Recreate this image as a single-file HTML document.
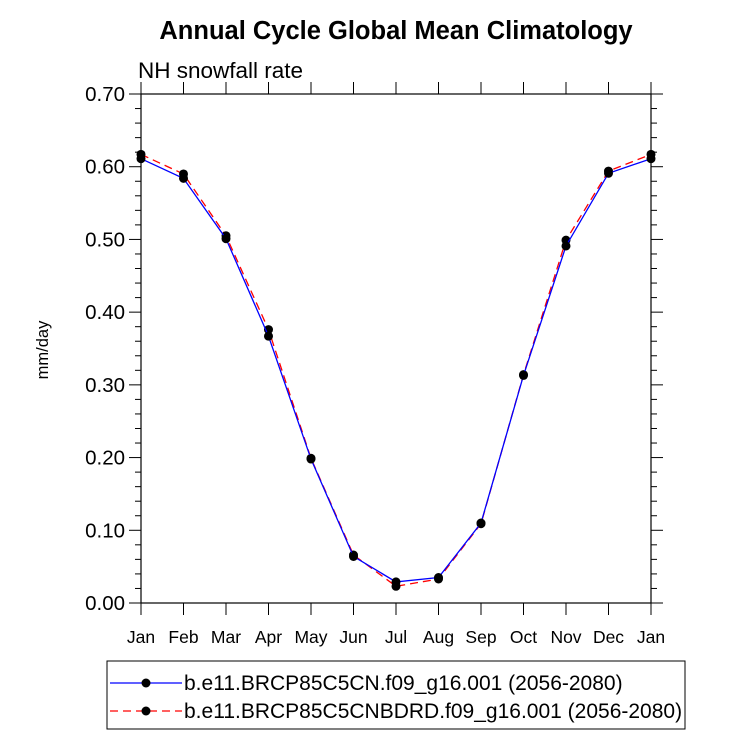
<!DOCTYPE html>
<html><head><meta charset="utf-8"><style>
body{margin:0;background:#fff;}
svg text{font-family:"Liberation Sans",Arial,sans-serif;}
</style></head><body>
<svg width="733" height="751" viewBox="0 0 733 751" xmlns="http://www.w3.org/2000/svg">
<text x="396" y="39" text-anchor="middle" font-size="25.5" font-weight="bold">Annual Cycle Global Mean Climatology</text>
<text x="138" y="78" font-size="22.5">NH snowfall rate</text>
<text transform="translate(48,350) rotate(-90)" text-anchor="middle" font-size="16.5">mm/day</text>
<g id="axes"></g>
<g id="series"></g>
<rect x="107" y="661" width="578" height="68" fill="none" stroke="#000" stroke-width="1"/>
<g>
<line x1="110" y1="683" x2="182" y2="683" stroke="#0000ff" stroke-width="1.3"/>
<circle cx="146" cy="683" r="4.5" fill="#000"/>
<text x="184" y="690" font-size="21">b.e11.BRCP85C5CN.f09_g16.001 (2056-2080)</text>
</g>
<g>
<line x1="110" y1="711" x2="182" y2="711" stroke="#ff0000" stroke-width="1.3" stroke-dasharray="8,5"/>
<circle cx="146" cy="711" r="4.5" fill="#000"/>
<text x="184" y="718" font-size="21">b.e11.BRCP85C5CNBDRD.f09_g16.001 (2056-2080)</text>
</g>
</svg>
<script>
const months=["Jan","Feb","Mar","Apr","May","Jun","Jul","Aug","Sep","Oct","Nov","Dec","Jan"];
const yTicks=[0,0.1,0.2,0.3,0.4,0.5,0.6,0.7];
const yTickLabels=["0.00","0.10","0.20","0.30","0.40","0.50","0.60","0.70"];
const blueValues=[0.611,0.584,0.501,0.367,0.198,0.064,0.029,0.035,0.110,0.313,0.491,0.591,0.611];
const redValues=[0.617,0.590,0.505,0.376,0.199,0.066,0.023,0.033,0.109,0.314,0.499,0.594,0.617];
const L=141,R=651,T=94,B=603,NS="http://www.w3.org/2000/svg";
const xs=i=>L+(R-L)*i/(months.length-1);
const ys=v=>B-(B-T)*v/0.7;
function mk(tag,attrs,parent){const e=document.createElementNS(NS,tag);for(const k in attrs)e.setAttribute(k,attrs[k]);parent.appendChild(e);return e;}
const ax=document.getElementById('axes');
const box=mk('rect',{x:L,y:T,width:R-L,height:B-T,fill:'none',stroke:'#000','stroke-width':1.2},ax);


months.forEach((m,i)=>{const x=xs(i);
mk('line',{x1:x,y1:B,x2:x,y2:B+12,stroke:'#000'},ax);
mk('line',{x1:x,y1:T,x2:x,y2:T-12,stroke:'#000'},ax);
const t=mk('text',{x:x,y:B+40,'text-anchor':'middle','font-size':17.5},ax);t.textContent=m;

});
for(let v=0;v<=0.7001;v+=0.02){const y=ys(v);const major=Math.abs(v*10-Math.round(v*10))<1e-6;const len=major?12:6;
mk('line',{x1:L,y1:y,x2:L-len,y2:y,stroke:'#000'},ax);
mk('line',{x1:R,y1:y,x2:R+len,y2:y,stroke:'#000'},ax);}
yTicks.forEach((v,i)=>{const t=mk('text',{x:L-16,y:ys(v)+7,'text-anchor':'end','font-size':20.5},ax);t.textContent=yTickLabels[i];

});
const sg=document.getElementById('series');
function series(vals,color,dash,name){const g=mk('g',{},sg);


mk('polyline',{points:vals.map((v,i)=>xs(i)+','+ys(v)).join(' '),fill:'none',stroke:color,'stroke-width':1.3,'stroke-dasharray':dash},g);
vals.forEach((v,i)=>{const c=mk('circle',{cx:xs(i),cy:ys(v),r:4.5,fill:'#000'},g);

});}
series(redValues,'#ff0000','8,5','series-red');
series(blueValues,'#0000ff','none','series-blue');
</script>
</body></html>
